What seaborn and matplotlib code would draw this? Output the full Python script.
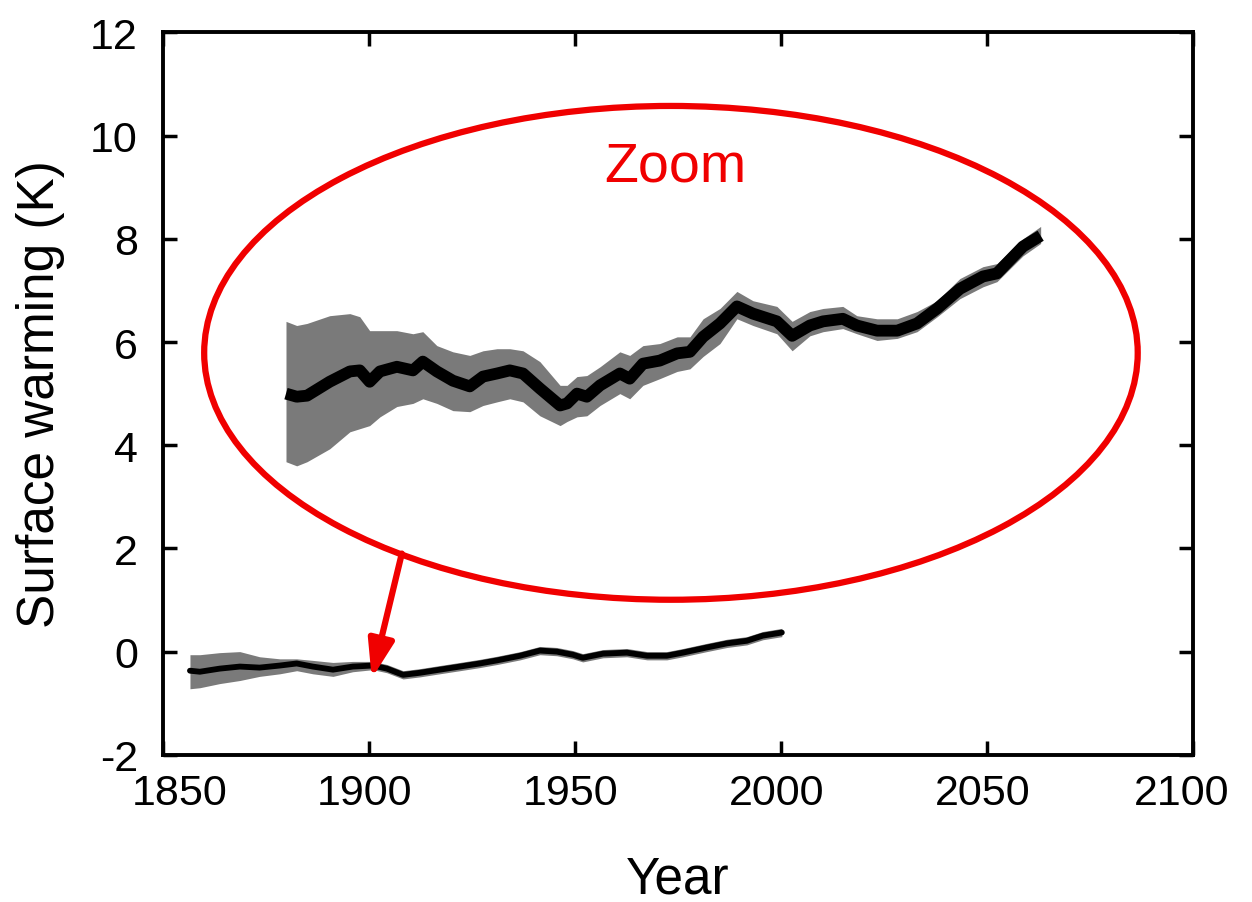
import numpy as np
import pandas as pd
import matplotlib
matplotlib.use("Agg")
import matplotlib.pyplot as plt
import matplotlib.transforms as mtransforms
from matplotlib.patches import Ellipse
import seaborn as sns

# ---------------- data ----------------
# Zoomed (magnified) series drawn inside the ellipse
zoom_years = [1879.9, 1882.5, 1885.0, 1890.5, 1895.4, 1897.8, 1900.2, 1902.7, 1906.8,
              1910.7, 1913.1, 1916.5, 1920.4, 1924.5, 1927.7, 1931.1, 1934.2, 1937.4,
              1941.5, 1946.4, 1948.1, 1950.5, 1952.9, 1956.1, 1960.9, 1963.3, 1966.5,
              1970.6, 1974.8, 1977.9, 1981.1, 1985.2, 1989.3, 1993.2, 1999.0, 2002.7,
              2007.0, 2010.2, 2015.0, 2018.4, 2023.3, 2028.2, 2033.0, 2037.9, 2043.4,
              2049.0, 2052.4, 2058.7, 2063.0]
zoom_mean = [5.00, 4.94, 4.96, 5.23, 5.43, 5.45, 5.23, 5.43, 5.52,
             5.45, 5.62, 5.43, 5.25, 5.14, 5.33, 5.39, 5.45, 5.39,
             5.10, 4.77, 4.81, 5.00, 4.94, 5.16, 5.39, 5.29, 5.58,
             5.64, 5.78, 5.81, 6.10, 6.36, 6.69, 6.55, 6.40, 6.12,
             6.32, 6.40, 6.45, 6.32, 6.22, 6.22, 6.36, 6.65, 7.03,
             7.27, 7.33, 7.85, 8.06]
zoom_upper = [6.40, 6.32, 6.36, 6.51, 6.55, 6.49, 6.22, 6.22, 6.22,
              6.16, 6.20, 5.93, 5.81, 5.74, 5.83, 5.87, 5.87, 5.83,
              5.62, 5.16, 5.16, 5.33, 5.35, 5.52, 5.81, 5.74, 5.93,
              5.97, 6.10, 6.10, 6.45, 6.65, 6.98, 6.80, 6.69, 6.40,
              6.59, 6.65, 6.69, 6.51, 6.45, 6.45, 6.59, 6.80, 7.23,
              7.46, 7.52, 8.00, 8.24]
zoom_lower = [3.68, 3.60, 3.68, 3.93, 4.26, 4.32, 4.38, 4.55, 4.75,
              4.81, 4.90, 4.81, 4.67, 4.65, 4.77, 4.84, 4.90, 4.84,
              4.57, 4.38, 4.46, 4.55, 4.57, 4.77, 5.00, 4.90, 5.16,
              5.29, 5.43, 5.48, 5.72, 5.97, 6.45, 6.32, 6.16, 5.83,
              6.12, 6.20, 6.26, 6.16, 6.03, 6.07, 6.20, 6.49, 6.84,
              7.07, 7.17, 7.67, 7.91]

# Actual series (near zero)
obs_years = [1856.6, 1859.0, 1863.8, 1868.7, 1873.5, 1878.4, 1882.5, 1886.4, 1891.3,
             1896.1, 1901.0, 1904.4, 1908.3, 1912.4, 1917.2, 1922.1, 1926.9, 1931.1,
             1936.7, 1941.5, 1945.6, 1949.5, 1951.9, 1956.8, 1962.6, 1967.5, 1972.3,
             1976.2, 1982.0, 1986.9, 1991.7, 1995.6, 2000.2]
obs_mean = [-0.37, -0.39, -0.33, -0.29, -0.31, -0.27, -0.23, -0.29, -0.35,
            -0.29, -0.27, -0.33, -0.45, -0.41, -0.35, -0.29, -0.23, -0.17,
            -0.08, 0.02, 0.00, -0.06, -0.12, -0.04, -0.02, -0.08, -0.08,
            -0.02, 0.08, 0.16, 0.21, 0.31, 0.37]
obs_upper = [-0.06, -0.06, -0.02, 0.00, -0.10, -0.14, -0.14, -0.17, -0.21,
             -0.19, -0.19, -0.25, -0.37, -0.33, -0.27, -0.21, -0.15, -0.09,
             0.00, 0.10, 0.08, 0.02, -0.04, 0.04, 0.06, 0.00, 0.00,
             0.06, 0.16, 0.24, 0.29, 0.39, 0.45]
obs_lower = [-0.72, -0.70, -0.62, -0.56, -0.48, -0.43, -0.37, -0.43, -0.48,
             -0.39, -0.35, -0.41, -0.53, -0.49, -0.43, -0.37, -0.31, -0.25,
             -0.16, -0.06, -0.08, -0.14, -0.20, -0.12, -0.10, -0.16, -0.16,
             -0.10, 0.00, 0.08, 0.13, 0.23, 0.29]

x_ticks = [1850, 1900, 1950, 2000, 2050, 2100]
y_ticks = [-2, 0, 2, 4, 6, 8, 10, 12]
x_label = "Year"
y_label = "Surface warming (K)"
zoom_text = "Zoom"

# ---------------- style ----------------
sns.set_theme(style="ticks")
plt.rcParams["font.family"] = ["Liberation Sans", "DejaVu Sans"]
plt.rcParams["axes.unicode_minus"] = False

fig = plt.figure(figsize=(12.52, 9.03), dpi=100)
ax = fig.add_axes([0.130, 0.163, 0.823, 0.800])

GRAY = "#7a7a7a"
RED = "#f00000"

obs_df = pd.DataFrame({"Year": obs_years, "T": obs_mean})
zoom_df = pd.DataFrame({"Year": zoom_years, "T": zoom_mean})

ax.fill_between(obs_years, obs_lower, obs_upper, color=GRAY, lw=0, zorder=2)
sns.lineplot(data=obs_df, x="Year", y="T", ax=ax, color="black", lw=4.2,
             solid_joinstyle="round", zorder=3)

ax.fill_between(zoom_years, zoom_lower, zoom_upper, color=GRAY, lw=0, zorder=2)
sns.lineplot(data=zoom_df, x="Year", y="T", ax=ax, color="black", lw=8.5,
             solid_joinstyle="round", solid_capstyle="butt", zorder=3)

# ellipse and annotation
ell = Ellipse((1973.3, 5.79), width=226.5, height=9.57, fill=False,
              edgecolor=RED, lw=4.5, zorder=4)
ax.add_patch(ell)
ax.text(1974.3, 9.40, zoom_text, color=RED, fontsize=40, ha="center", va="center",
        zorder=5)
ax.annotate("", xy=(1900.7, -0.52), xytext=(1908.0, 1.90),
            arrowprops=dict(arrowstyle="-|>,head_length=1.9,head_width=0.65",
                            color=RED, lw=4.5, shrinkA=0, shrinkB=0),
            zorder=5)

ax.set_xlim(1850, 2100)
ax.set_ylim(-2, 12)
ax.set_xticks(x_ticks)
ax.set_yticks(y_ticks)
ax.set_xticklabels([str(v) for v in x_ticks])
ax.set_yticklabels([str(v) for v in y_ticks])
ax.tick_params(direction="in", length=10, width=2.5, labelsize=31,
               top=True, right=True, color="black", labelcolor="black")
ax.tick_params(axis="x", pad=13)
ax.tick_params(axis="y", pad=18)

# edge x tick labels are pulled inward, as in the reference
xlabels = ax.get_xticklabels()
shifts_px = [17, -4, -4, -4, -4, -12]
for lab, sh in zip(xlabels, shifts_px):
    lab.set_transform(lab.get_transform() +
                      mtransforms.ScaledTranslation(sh / 100.0, 0, fig.dpi_scale_trans))

for s in ax.spines.values():
    s.set_visible(True)
    s.set_linewidth(2.8)
    s.set_color("black")
ax.set_xlabel(x_label, fontsize=37, labelpad=30, color="black")
ax.set_ylabel(y_label, fontsize=37, labelpad=18, color="black")
ax.grid(False)

fig.savefig("out.png", dpi=100, facecolor="white")
